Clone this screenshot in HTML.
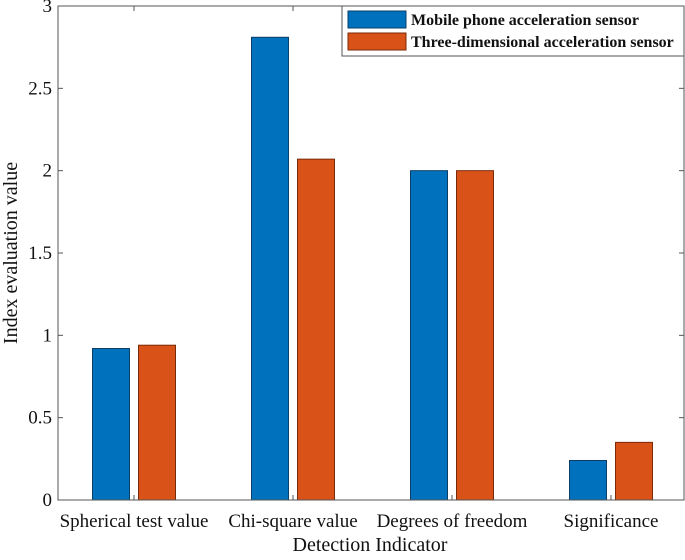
<!DOCTYPE html>
<html><head><meta charset="utf-8"><style>
html,body{margin:0;padding:0;background:#fff;}
svg, svg text{font-family:"Liberation Serif","Times New Roman","DejaVu Serif",serif;}
</style></head><body>
<svg id="chart" width="685" height="555"></svg>
<script>
const categories = ["Spherical test value","Chi-square value","Degrees of freedom","Significance"];
const seriesNames = ["Mobile phone acceleration sensor","Three-dimensional acceleration sensor"];
const mobileValues = [0.92, 2.81, 2.0, 0.24];
const threeDValues = [0.94, 2.07, 2.0, 0.35];
const yTicks = [0, 0.5, 1, 1.5, 2, 2.5, 3];
const yTickLabels = ["0","0.5","1","1.5","2","2.5","3"];

const NS = "http://www.w3.org/2000/svg";
const svg = document.getElementById("chart");
const FF = "Liberation Serif, Times New Roman, serif";
const L = 58, R = 684, T = 6, B = 500;
const yMin = 0, yMax = 3;
function y(v){ return B - (v - yMin) / (yMax - yMin) * (B - T); }
function x(i){ return 134 + i * 159; }
function mk(tag, attrs){ const e = document.createElementNS(NS, tag); for (const k in attrs) e.setAttribute(k, attrs[k]); if (tag === "text") e.setAttribute("font-family", FF); svg.appendChild(e); return e; }

const colors = ["#0072BD", "#D95319"];
const strokes = ["#0d3e66", "#7a2a08"];
const series = [mobileValues, threeDValues];
const bw = 37, gap = 9;
series.forEach((vals, s) => {
  vals.forEach((v, i) => {
    const bx = s === 0 ? x(i) - gap / 2 - bw : x(i) + gap / 2;
    const r = mk("rect", {x: bx, y: y(v), width: bw, height: B - y(v), fill: colors[s], stroke: strokes[s], "stroke-width": 1});
    
    
  });
});

const frame = mk("rect", {x: L, y: T, width: R - L, height: B - T, fill: "none", stroke: "#555", "stroke-width": 1});



yTicks.forEach((t, i) => {
  mk("line", {x1: L, x2: L + 5, y1: y(t), y2: y(t), stroke: "#555"});
  mk("line", {x1: R, x2: R - 5, y1: y(t), y2: y(t), stroke: "#555"});
  const tx = mk("text", {x: L - 6, y: y(t) + 6, "text-anchor": "end", "font-size": 19, fill: "#111"});
  tx.textContent = yTickLabels[i];
  
  
});
categories.forEach((c, i) => {
  mk("line", {x1: x(i), x2: x(i), y1: B, y2: B - 5, stroke: "#555"});
  mk("line", {x1: x(i), x2: x(i), y1: T, y2: T + 5, stroke: "#555"});
  const tx = mk("text", {x: x(i), y: B + 27, "text-anchor": "middle", "font-size": 19, fill: "#111"});
  tx.textContent = c;
  
  
});

const xt = mk("text", {x: 370, y: 551, "text-anchor": "middle", "font-size": 20, fill: "#111"});
xt.textContent = "Detection Indicator";


const yt = mk("text", {x: 0, y: 0, "text-anchor": "middle", "font-size": 20, fill: "#111", transform: "translate(17,253) rotate(-90)"});
yt.textContent = "Index evaluation value";



const lg = mk("rect", {x: 342, y: 6, width: 342, height: 50, fill: "#fff", stroke: "#555"});


seriesNames.forEach((n, s) => {
  const yy = 11 + s * 22;
  const sw = mk("rect", {x: 348, y: yy, width: 58, height: 17, fill: colors[s], stroke: strokes[s]});
  
  
  const tx = mk("text", {x: 411, y: yy + 14, "font-size": 16, "font-weight": "bold", fill: "#111"});
  tx.textContent = n;
  
  
});
</script>
</body></html>
